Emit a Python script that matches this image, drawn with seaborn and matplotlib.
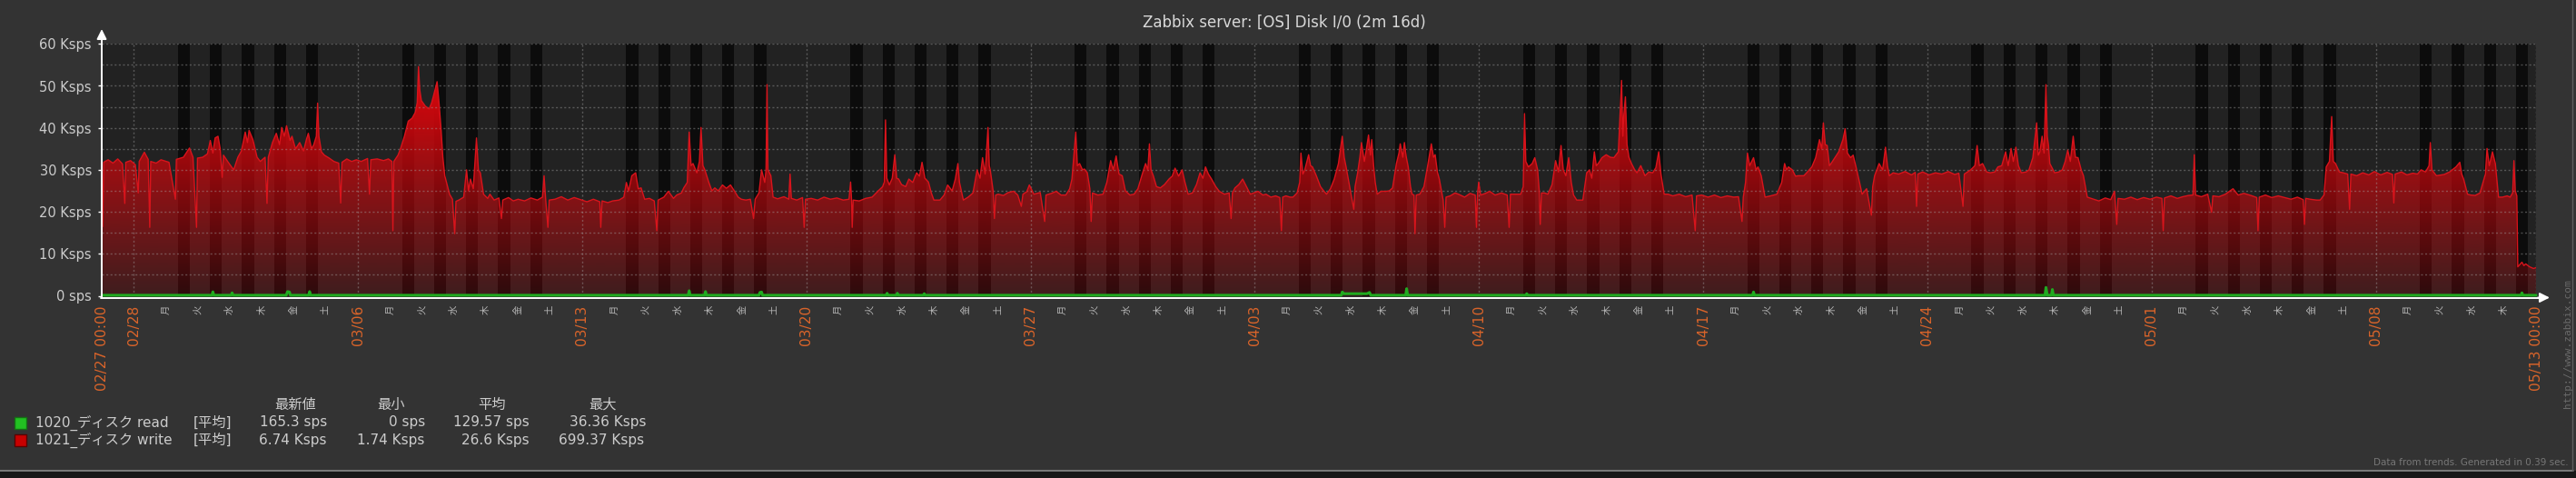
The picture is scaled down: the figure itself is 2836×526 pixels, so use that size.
import numpy as np
import pandas as pd
import seaborn as sns
import matplotlib.pyplot as plt
from matplotlib import transforms
from matplotlib.patches import Rectangle

# 経過日数 (02/27 00:00 起点), 値 Ksps
write_points = [
    (0.00, 31.5), (0.03, 16.5), (0.06, 31.8), (0.20, 32.4), (0.35, 31.6), (0.50, 32.6), (0.65, 31.4), (0.72, 22.0), (0.75, 31.8), (0.90, 32.2),
    (1.05, 31.2), (1.14, 24.5), (1.17, 32.0), (1.33, 34.2), (1.45, 32.5), (1.50, 16.3), (1.53, 32.0), (1.70, 31.6), (1.85, 32.4),
    (2.10, 31.8), (2.30, 23.0), (2.33, 32.5), (2.55, 33.0), (2.74, 35.2), (2.85, 33.0), (2.96, 16.3), (2.99, 32.8),
    (3.15, 33.0), (3.30, 33.8), (3.39, 37.0), (3.47, 34.0), (3.54, 37.6), (3.63, 38.0), (3.70, 35.0), (3.76, 28.2), (3.80, 33.5), (3.95, 31.8),
    (4.12, 30.0), (4.25, 33.0), (4.36, 34.5), (4.48, 39.0), (4.55, 36.5), (4.60, 39.4), (4.72, 37.2), (4.85, 33.0), (4.95, 32.0),
    (5.10, 33.0), (5.16, 22.0), (5.20, 33.0), (5.33, 36.5), (5.45, 38.7), (5.55, 36.0), (5.62, 40.1), (5.70, 38.0), (5.77, 40.5), (5.88, 37.0), (5.94, 38.0),
    (6.05, 35.0), (6.18, 36.5), (6.30, 34.5), (6.40, 37.5), (6.45, 38.7), (6.55, 35.0), (6.62, 36.0), (6.70, 38.0), (6.74, 45.9), (6.78, 38.0), (6.86, 34.3), (6.95, 33.5),
    (7.10, 32.8), (7.25, 32.0), (7.40, 31.6), (7.46, 22.1), (7.50, 31.8), (7.65, 32.6), (7.80, 32.0), (7.95, 32.4),
    (8.10, 32.0), (8.30, 32.7), (8.36, 24.2), (8.40, 32.4), (8.60, 32.6), (8.80, 32.2), (8.95, 32.6),
    (9.06, 32.0), (9.09, 15.5), (9.12, 32.0), (9.25, 33.5), (9.33, 35.1), (9.45, 38.0), (9.57, 41.6), (9.69, 42.3), (9.79, 43.7), (9.85, 46.0), (9.89, 54.6), (9.93, 49.0), (9.98, 46.5),
    (10.10, 45.2), (10.22, 44.5), (10.30, 46.0), (10.35, 47.4), (10.42, 49.5), (10.47, 51.0), (10.53, 46.0), (10.59, 40.1), (10.65, 33.0), (10.71, 28.6), (10.86, 24.2), (10.95, 23.0),
    (11.02, 14.8), (11.06, 22.5), (11.15, 22.8), (11.30, 23.5), (11.39, 30.0), (11.45, 25.0), (11.51, 27.8), (11.60, 25.5), (11.70, 37.6), (11.76, 30.0), (11.82, 29.3), (11.92, 24.2),
    (12.05, 23.2), (12.12, 24.2), (12.25, 22.8), (12.40, 23.3), (12.48, 18.4), (12.52, 22.8), (12.70, 23.4), (12.85, 22.6),
    (13.00, 23.0), (13.20, 22.6), (13.40, 23.3), (13.60, 22.8), (13.76, 23.5), (13.81, 28.6), (13.86, 23.0), (13.93, 16.3), (13.97, 22.8),
    (14.15, 23.0), (14.35, 23.6), (14.55, 22.8), (14.75, 23.4), (14.95, 22.9),
    (15.15, 22.4), (15.35, 23.0), (15.55, 22.4), (15.58, 16.3), (15.62, 22.6), (15.80, 22.2), (15.95, 22.6),
    (16.15, 22.8), (16.30, 23.5), (16.38, 27.0), (16.45, 25.0), (16.55, 28.6), (16.67, 29.3), (16.75, 25.5), (16.84, 25.7), (16.95, 23.0),
    (17.10, 23.2), (17.25, 22.6), (17.33, 15.5), (17.37, 22.8), (17.55, 23.5), (17.69, 24.9), (17.85, 23.2), (17.95, 24.0),
    (18.10, 24.5), (18.17, 25.7), (18.28, 27.0), (18.34, 39.0), (18.40, 31.0), (18.46, 31.5), (18.58, 29.3), (18.66, 32.0), (18.71, 40.1), (18.77, 31.0), (18.83, 30.0), (18.95, 27.1),
    (19.05, 25.0), (19.14, 25.7), (19.25, 25.0), (19.38, 26.4), (19.50, 25.6), (19.63, 26.4), (19.75, 25.0), (19.87, 23.5), (19.97, 23.0),
    (20.11, 22.8), (20.25, 23.0), (20.35, 18.4), (20.40, 23.0), (20.52, 24.5), (20.60, 30.0), (20.70, 27.0), (20.74, 30.0), (20.77, 50.3), (20.80, 30.0), (20.89, 28.6), (20.96, 23.5),
    (21.10, 23.1), (21.30, 23.6), (21.45, 23.0), (21.49, 29.0), (21.53, 23.2), (21.70, 22.8), (21.88, 23.4), (21.93, 16.3), (21.97, 23.0),
    (22.15, 23.2), (22.35, 22.8), (22.55, 23.5), (22.75, 23.0), (22.95, 23.3),
    (23.15, 22.8), (23.33, 23.0), (23.38, 27.1), (23.41, 22.9), (23.43, 16.3), (23.46, 22.8), (23.65, 22.6), (23.85, 23.2),
    (24.05, 23.5), (24.23, 24.9), (24.38, 26.0), (24.43, 27.1), (24.47, 41.9), (24.51, 28.0), (24.59, 26.4), (24.68, 28.0), (24.76, 33.6), (24.82, 28.0), (24.88, 27.8), (24.97, 26.5),
    (25.10, 26.0), (25.20, 27.8), (25.32, 27.0), (25.44, 29.3), (25.53, 28.5), (25.61, 31.8), (25.70, 28.0), (25.81, 27.1), (25.90, 24.5), (25.98, 22.8),
    (26.17, 22.8), (26.30, 24.0), (26.41, 26.4), (26.55, 25.0), (26.65, 27.8), (26.73, 31.5), (26.78, 27.0), (26.90, 22.8),
    (27.05, 23.5), (27.20, 24.5), (27.33, 30.0), (27.42, 28.0), (27.50, 32.9), (27.58, 29.0), (27.67, 40.1), (27.71, 31.0), (27.74, 30.0), (27.83, 25.0), (27.87, 18.4), (27.91, 24.0), (27.99, 24.2),
    (28.15, 23.9), (28.30, 24.6), (28.47, 24.9), (28.60, 24.0), (28.71, 21.3), (28.76, 24.2), (28.88, 24.8), (28.96, 26.4),
    (29.10, 24.2), (29.30, 24.6), (29.44, 17.7), (29.48, 24.0), (29.65, 24.4), (29.80, 24.9), (29.95, 24.0),
    (30.10, 24.0), (30.22, 25.5), (30.29, 27.8), (30.41, 39.0), (30.46, 31.0), (30.53, 31.5), (30.62, 30.0), (30.68, 30.2), (30.77, 29.3), (30.85, 25.5), (30.89, 17.7), (30.93, 24.5),
    (31.10, 24.0), (31.26, 24.2), (31.38, 27.0), (31.50, 32.2), (31.58, 30.0), (31.67, 33.3), (31.76, 29.0), (31.86, 28.6), (31.96, 25.0),
    (32.10, 24.0), (32.23, 24.2), (32.35, 25.5), (32.47, 28.6), (32.59, 31.5), (32.66, 30.0), (32.71, 36.2), (32.76, 30.0), (32.83, 28.6), (32.93, 26.0),
    (33.05, 25.7), (33.18, 26.5), (33.32, 27.8), (33.42, 28.5), (33.51, 30.4), (33.62, 28.5), (33.73, 30.0), (33.82, 27.0), (33.92, 24.2),
    (34.05, 24.5), (34.18, 26.5), (34.29, 29.3), (34.38, 28.0), (34.46, 30.7), (34.55, 29.0), (34.65, 27.8), (34.78, 26.0), (34.89, 24.9),
    (35.05, 24.2), (35.20, 24.5), (35.26, 18.4), (35.30, 24.5), (35.38, 25.7), (35.50, 26.5), (35.62, 27.8), (35.74, 26.0), (35.86, 24.2), (35.96, 24.5),
    (36.10, 24.9), (36.25, 24.0), (36.35, 24.2), (36.50, 23.5), (36.65, 23.8), (36.78, 23.4), (36.83, 15.5), (36.87, 23.5), (36.97, 23.8),
    (37.10, 23.5), (37.19, 23.5), (37.32, 24.5), (37.40, 27.0), (37.44, 34.0), (37.50, 29.0), (37.56, 30.0), (37.68, 33.6), (37.74, 31.0), (37.80, 30.7), (37.92, 28.6),
    (38.05, 26.0), (38.15, 25.0), (38.24, 24.2), (38.36, 25.5), (38.48, 27.8), (38.61, 31.5), (38.73, 38.0), (38.79, 33.0), (38.85, 30.7), (38.97, 25.7),
    (39.09, 20.6), (39.13, 26.0), (39.21, 29.3), (39.28, 33.0), (39.33, 36.5), (39.42, 32.0), (39.47, 34.3), (39.55, 38.3), (39.61, 33.5), (39.65, 37.2), (39.71, 31.0), (39.76, 27.0), (39.82, 24.2), (39.94, 24.9),
    (40.10, 24.9), (40.20, 25.0), (40.30, 25.7), (40.42, 31.5), (40.50, 34.0), (40.54, 36.2), (40.62, 33.0), (40.67, 36.5), (40.73, 33.0), (40.79, 30.7), (40.86, 26.0), (40.91, 24.2), (40.97, 24.0),
    (41.00, 14.8), (41.04, 24.0), (41.15, 24.2), (41.28, 26.0), (41.39, 30.7), (41.51, 36.2), (41.58, 33.0), (41.63, 33.6), (41.70, 29.5), (41.76, 27.8), (41.88, 22.8), (41.93, 16.3), (41.97, 23.5),
    (42.10, 23.8), (42.25, 24.5), (42.36, 24.2), (42.55, 23.5), (42.72, 24.4), (42.88, 24.0), (42.92, 16.3), (42.95, 24.0), (42.99, 27.1),
    (43.05, 24.0), (43.20, 24.4), (43.33, 24.9), (43.50, 24.0), (43.70, 24.5), (43.88, 24.0), (43.94, 16.3), (43.98, 24.2),
    (44.15, 24.2), (44.30, 24.2), (44.38, 26.0), (44.42, 43.4), (44.46, 32.0), (44.54, 30.7), (44.66, 31.5), (44.74, 32.9), (44.83, 30.0), (44.88, 25.0), (44.91, 17.0), (44.95, 24.5),
    (45.05, 24.5), (45.15, 24.2), (45.28, 26.5), (45.39, 32.2), (45.48, 29.5), (45.56, 35.8), (45.63, 30.0), (45.71, 28.6), (45.80, 32.9), (45.88, 27.0), (45.95, 24.0),
    (46.05, 22.8), (46.24, 22.8), (46.36, 29.3), (46.45, 30.0), (46.52, 28.0), (46.60, 34.3), (46.66, 31.0), (46.72, 31.5), (46.84, 32.9), (46.97, 33.6),
    (47.10, 33.0), (47.21, 32.9), (47.35, 34.3), (47.45, 51.3), (47.49, 38.0), (47.52, 43.0), (47.57, 47.4), (47.62, 36.0), (47.68, 33.0), (47.76, 31.5), (47.86, 30.0), (47.93, 29.3),
    (48.05, 31.0), (48.18, 28.6), (48.30, 29.5), (48.42, 29.3), (48.52, 30.5), (48.61, 34.3), (48.68, 29.0), (48.78, 24.2), (48.90, 24.2),
    (49.05, 23.8), (49.25, 24.2), (49.45, 23.6), (49.65, 24.0), (49.75, 15.5), (49.79, 23.8), (49.95, 24.0),
    (50.15, 23.5), (50.35, 24.0), (50.55, 23.4), (50.75, 23.8), (50.95, 23.5),
    (51.10, 23.6), (51.21, 17.7), (51.25, 23.5), (51.32, 27.0), (51.38, 34.0), (51.45, 31.0), (51.57, 32.9), (51.65, 30.0), (51.71, 30.7), (51.81, 28.6), (51.93, 23.5),
    (52.10, 23.8), (52.30, 24.2), (52.45, 27.0), (52.54, 31.5), (52.60, 30.0), (52.66, 30.7), (52.78, 30.0), (52.88, 28.5), (52.97, 28.6),
    (53.14, 28.6), (53.25, 29.5), (53.39, 30.7), (53.51, 32.9), (53.63, 37.2), (53.70, 35.0), (53.75, 41.2), (53.81, 36.0), (53.87, 35.8), (53.94, 31.0), (53.99, 31.5),
    (54.11, 32.9), (54.23, 34.3), (54.36, 37.2), (54.43, 39.8), (54.50, 34.0), (54.60, 32.9), (54.68, 33.5), (54.77, 30.7), (54.88, 27.0), (54.96, 24.2),
    (55.10, 25.5), (55.25, 19.2), (55.29, 26.0), (55.35, 28.6), (55.49, 31.5), (55.60, 30.0), (55.69, 35.4), (55.75, 31.0), (55.81, 28.6), (55.93, 29.3),
    (56.10, 29.0), (56.30, 29.6), (56.50, 28.8), (56.62, 29.4), (56.66, 21.3), (56.70, 29.0), (56.85, 29.5),
    (57.05, 28.8), (57.25, 29.3), (57.45, 29.0), (57.65, 29.6), (57.85, 28.9), (57.98, 29.2),
    (58.11, 21.3), (58.15, 29.0), (58.35, 30.0), (58.48, 31.0), (58.55, 35.8), (58.62, 31.0), (58.72, 31.5), (58.85, 29.5), (58.96, 29.3),
    (59.10, 29.5), (59.20, 30.7), (59.32, 31.0), (59.44, 34.3), (59.52, 31.0), (59.61, 35.1), (59.68, 32.0), (59.76, 35.4), (59.84, 31.0), (59.93, 29.3),
    (60.08, 29.5), (60.17, 30.0), (60.29, 32.9), (60.41, 41.2), (60.46, 33.5), (60.51, 34.3), (60.58, 38.0), (60.64, 34.0), (60.70, 50.3), (60.74, 38.0), (60.78, 35.8), (60.82, 31.5), (60.97, 29.3),
    (61.10, 29.5), (61.21, 30.0), (61.30, 32.0), (61.38, 34.7), (61.46, 32.0), (61.55, 38.0), (61.62, 33.0), (61.70, 32.9), (61.80, 30.0), (61.87, 28.6), (61.99, 23.5),
    (62.15, 23.1), (62.35, 22.6), (62.55, 23.3), (62.72, 22.9), (62.84, 24.9), (62.91, 17.0), (62.95, 23.2),
    (63.15, 23.0), (63.35, 23.5), (63.55, 22.9), (63.75, 23.4), (63.95, 23.0),
    (64.15, 23.5), (64.32, 23.2), (64.36, 15.5), (64.40, 23.3), (64.60, 23.8), (64.80, 23.2), (64.97, 23.6),
    (65.15, 23.9), (65.29, 24.0), (65.33, 33.6), (65.37, 24.0), (65.55, 23.6), (65.75, 24.2), (65.87, 19.9), (65.91, 23.8),
    (66.10, 23.6), (66.30, 24.2), (66.54, 25.5), (66.70, 24.0), (66.88, 24.4),
    (67.10, 23.9), (67.28, 23.4), (67.32, 15.5), (67.36, 23.5), (67.55, 24.0), (67.75, 23.4), (67.95, 23.8),
    (68.15, 23.4), (68.35, 23.0), (68.55, 23.5), (68.73, 22.9), (68.77, 17.0), (68.81, 23.2), (68.95, 23.0),
    (69.15, 22.8), (69.26, 22.8), (69.38, 24.0), (69.45, 30.7), (69.55, 32.0), (69.62, 42.7), (69.67, 32.0), (69.74, 31.5), (69.86, 29.5), (69.98, 29.3),
    (70.12, 29.0), (70.18, 20.6), (70.22, 29.0), (70.40, 28.6), (70.59, 29.3), (70.78, 28.8), (70.95, 29.6),
    (71.15, 28.8), (71.35, 29.4), (71.52, 28.9), (71.56, 22.1), (71.60, 29.0), (71.80, 29.5), (71.97, 28.8),
    (72.15, 29.2), (72.30, 29.0), (72.41, 30.0), (72.55, 29.5), (72.66, 31.0), (72.70, 36.5), (72.75, 30.0), (72.89, 28.6),
    (73.13, 28.9), (73.30, 29.5), (73.50, 30.7), (73.62, 31.8), (73.68, 29.0), (73.74, 27.8), (73.86, 24.2), (73.96, 24.0),
    (74.10, 23.9), (74.25, 24.5), (74.35, 27.1), (74.42, 29.0), (74.47, 35.1), (74.54, 31.0), (74.64, 34.3), (74.73, 31.5), (74.83, 23.5), (74.95, 23.5),
    (75.10, 23.8), (75.19, 23.5), (75.27, 24.5), (75.31, 32.2), (75.35, 25.0), (75.40, 23.8), (75.43, 6.9), (75.50, 7.5), (75.56, 8.0), (75.62, 7.2), (75.68, 7.6), (75.80, 6.9), (75.92, 6.5), (76.00, 6.7),
]

read_points = [
    (0.00, 0.13), (3.44, 0.13), (3.47, 0.94), (3.50, 0.13), (4.04, 0.13), (4.07, 0.7), (4.10, 0.13),
    (5.76, 0.13), (5.80, 1.0), (5.86, 0.9), (5.89, 0.13), (6.46, 0.13), (6.49, 1.0), (6.52, 0.13),
    (18.31, 0.13), (18.34, 1.2), (18.37, 0.13), (18.82, 0.13), (18.85, 1.0), (18.88, 0.13),
    (20.52, 0.13), (20.55, 0.8), (20.60, 0.9), (20.63, 0.13), (24.49, 0.13), (24.52, 0.6), (24.55, 0.13),
    (24.81, 0.13), (24.84, 0.6), (24.87, 0.13), (25.65, 0.13), (25.68, 0.5), (25.71, 0.13),
    (38.70, 0.13), (38.73, 0.9), (38.78, 0.5), (39.50, 0.5), (39.58, 0.8), (39.62, 0.13),
    (40.71, 0.13), (40.74, 1.7), (40.77, 0.13), (44.46, 0.13), (44.49, 0.5), (44.52, 0.13),
    (51.54, 0.13), (51.57, 0.9), (51.60, 0.13), (60.67, 0.13), (60.70, 2.0), (60.74, 0.13),
    (60.87, 0.13), (60.90, 1.5), (60.93, 0.13), (75.53, 0.13), (75.56, 0.7), (75.59, 0.13), (76.00, 0.13),
]

date_ticks = [0, 1, 8, 15, 22, 29, 36, 43, 50, 57, 64, 71, 76]
date_labels = ['02/27 00:00', '02/28', '03/06', '03/13', '03/20', '03/27', '04/03',
               '04/10', '04/17', '04/24', '05/01', '05/08', '05/13 00:00']
weekday_names = ['月', '火', '水', '木', '金', '土', '日']
y_ticks = [0, 10, 20, 30, 40, 50, 60]
y_labels = ['0 sps', '10 Ksps', '20 Ksps', '30 Ksps', '40 Ksps', '50 Ksps', '60 Ksps']

legend_names = ['1020_ディスク read', '1021_ディスク write']
legend_func = '[平均]'
legend_cols = ['最新値', '最小', '平均', '最大']
legend_values = [['165.3 sps', '0 sps', '129.57 sps', '36.36 Ksps'],
                 ['6.74 Ksps', '1.74 Ksps', '26.6 Ksps', '699.37 Ksps']]

W, H = 2836, 526
BG = '#333333'
PLOT_BG = '#222222'
WORK_BG = '#0c0c0c'
TXT = '#cccccc'
ORANGE = '#d9642a'
RED = '#d8141c'
GREEN = '#20aa20'

sns.set_theme(style='dark')
plt.rcParams['font.family'] = ['DejaVu Sans', 'Noto Sans CJK JP']


def fx(x):
    return x / W


def fy(y):
    return 1 - y / H


write_df = pd.DataFrame(write_points, columns=['day', 'ksps'])
read_df = pd.DataFrame(read_points, columns=['day', 'ksps'])

fig = plt.figure(figsize=(W / 100, H / 100), dpi=100, facecolor=BG)
ax = fig.add_axes([fx(112), fy(325.5), fx(2792) - fx(112), fy(48.3) - fy(325.5)])
ax.set_facecolor(PLOT_BG)

# 勤務時間帯 (月-金 09:00-18:00)
start = pd.Timestamp('2016-02-27')
for d in range(76):
    if (start + pd.Timedelta(days=d)).dayofweek < 5:
        ax.axvspan(d + 0.375, d + 0.75, color=WORK_BG, lw=0, zorder=0.5)

# グラデーション塗り
gy = np.linspace(0, 60, 256)
rgba = np.zeros((256, 1, 4))
rgba[..., 0] = 0.80
rgba[..., 1] = 0.03
rgba[..., 2] = 0.05
rgba[..., 3] = np.clip(0.17 + 0.0177 * gy, 0, 1)[:, None]
im = ax.imshow(rgba, extent=(0, 76, 0, 60), origin='lower', aspect='auto',
               interpolation='bilinear', zorder=2)
poly = ax.fill_between(write_df['day'], write_df['ksps'], 0, facecolor='none', edgecolor='none')
im.set_clip_path(poly.get_paths()[0], transform=ax.transData)

# グリッド
grid_kw = dict(color=(0.65, 0.65, 0.65, 0.42), lw=1.0, linestyle=(0, (1.5, 1.8)), zorder=3)
for v in range(5, 61, 5):
    ax.axhline(v, **grid_kw)
for d in date_ticks[1:]:
    ax.axvline(d, **grid_kw)

sns.lineplot(data=write_df, x='day', y='ksps', ax=ax, color=RED, lw=1.0,
             sort=False, estimator=None, legend=False, zorder=4)
sns.lineplot(data=read_df, x='day', y='ksps', ax=ax, color=GREEN, lw=2.2,
             sort=False, estimator=None, legend=False, zorder=5)
ax.lines[-1].set_clip_on(False)

ax.set_xlim(0, 76)
ax.set_ylim(0, 60)
ax.set_xlabel('')
ax.set_ylabel('')
ax.set_xticks([])
ax.set_yticks(y_ticks)
ax.set_yticklabels(y_labels)
ax.tick_params(axis='y', left=True, length=3, width=1, color='white', pad=5,
               labelcolor=TXT, labelsize=10.5)
for s in ax.spines.values():
    s.set_visible(False)

# 軸の矢印
arrow = dict(arrowstyle='-|>', color='white', lw=1.4, mutation_scale=16, shrinkA=0, shrinkB=0)
fig.add_artist(plt.Line2D([fx(112), fx(112)], [fy(328), fy(40)], color='white', lw=1.4))
ax.annotate('', xy=(112, H - 32), xytext=(112, H - 45), xycoords='figure pixels',
            textcoords='figure pixels', arrowprops=arrow, annotation_clip=False)
fig.add_artist(plt.Line2D([fx(111), fx(2795)], [fy(327.5), fy(327.5)], color='white', lw=1.4))
ax.annotate('', xy=(2807, H - 327.5), xytext=(2794, H - 327.5), xycoords='figure pixels',
            textcoords='figure pixels', arrowprops=arrow, annotation_clip=False)

# x 軸ラベル
trans = transforms.blended_transform_factory(ax.transData, fig.transFigure)
for d, lab in zip(date_ticks, date_labels):
    ax.text(d, fy(336), lab, transform=trans, rotation=90, ha='center', va='top',
            color=ORANGE, fontsize=11.2, family='DejaVu Sans')
for d in range(1, 76):
    if d in date_ticks:
        continue
    wd = (start + pd.Timedelta(days=d)).dayofweek
    ax.text(d, fy(336), weekday_names[wd], transform=trans, rotation=90, ha='center',
            va='top', color='#b4b4b4', fontsize=7.5, family=['Noto Sans CJK JP'])

fig.text(fx(1414), fy(25), 'Zabbix server: [OS] Disk I/0 (2m 16d)', ha='center', va='center',
         color='#d8d8d8', fontsize=12)

# 凡例
sq_colors = [('#22c022', '#147014'), ('#c80000', '#5a0000')]
row_y = [465, 484]
head_x = [325, 431, 541, 664]
val_x = [[286, 428, 499, 627], [285, 393, 508, 615]]
for cx, lab in zip(head_x, legend_cols):
    fig.text(fx(cx), fy(445), lab, ha='center', va='center', color=TXT, fontsize=11)
for i in range(2):
    fig.add_artist(Rectangle((fx(16), fy(row_y[i] + 6.5)), fx(13), 13 / H,
                             facecolor=sq_colors[i][0], edgecolor=sq_colors[i][1], lw=1,
                             transform=fig.transFigure))
    fig.text(fx(39), fy(row_y[i]), legend_names[i], ha='left', va='center', color=TXT, fontsize=11)
    fig.text(fx(213), fy(row_y[i]), legend_func, ha='left', va='center', color=TXT, fontsize=11)
    for x, val in zip(val_x[i], legend_values[i]):
        fig.text(fx(x), fy(row_y[i]), val, ha='left', va='center', color=TXT, fontsize=11)

fig.text(fx(2827), fy(378), 'http://www.zabbix.com', rotation=90, ha='center', va='center',
         color='#6a6a6a', fontsize=8, family='DejaVu Sans Mono')
fig.text(fx(2828), fy(509), 'Data from trends. Generated in 0.39 sec.', ha='right', va='center',
         color='#777777', fontsize=7.5)

# 下端の枠
fig.add_artist(Rectangle((0, 0), 1, 8 / H, facecolor='#181818', edgecolor='none',
                         transform=fig.transFigure))
fig.add_artist(plt.Line2D([0, fx(2833)], [fy(518), fy(518)], color='#8a8a8a', lw=1.2))
fig.add_artist(plt.Line2D([fx(2832), fx(2832)], [fy(518), 1], color='#5e5e5e', lw=1.0))

fig.savefig('out.png', dpi=100, facecolor=fig.get_facecolor())
